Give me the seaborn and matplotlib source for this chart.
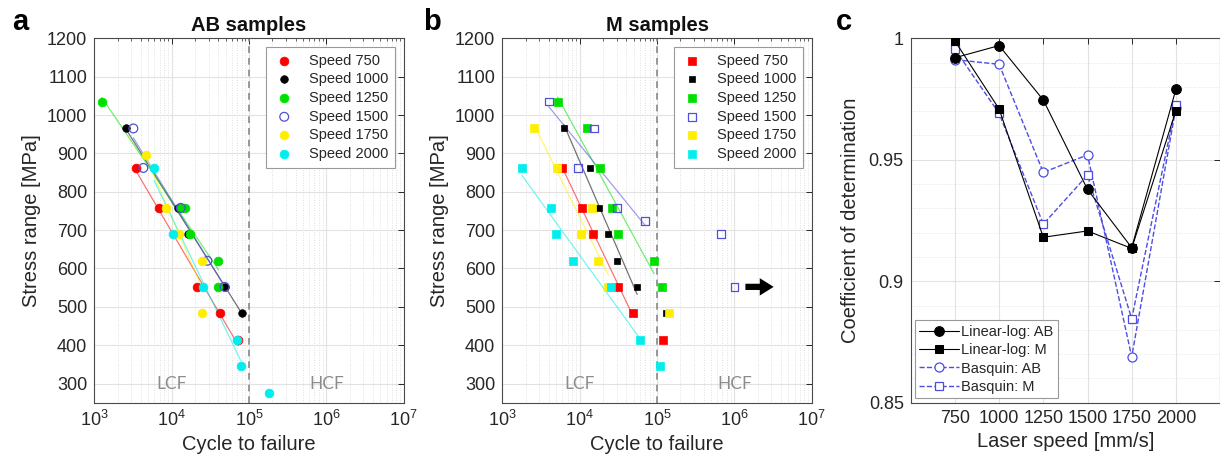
import numpy as np
import pandas as pd
import matplotlib
matplotlib.use("Agg")
import matplotlib.pyplot as plt
from matplotlib.ticker import LogLocator, NullFormatter, MultipleLocator, FixedLocator
import seaborn as sns

# ---------------- data ----------------
speeds = [750, 1000, 1250, 1500, 1750, 2000]
speed_labels = ["Speed 750", "Speed 1000", "Speed 1250", "Speed 1500", "Speed 1750", "Speed 2000"]

# Panel a: AB samples (cycles to failure, stress range MPa)
ab_750_N = [3460, 6800, 21500, 42300, 72800]
ab_750_S = [862, 758, 552, 483, 414]
ab_1000_N = [2540, 12200, 16400, 49100, 82200]
ab_1000_S = [965, 758, 690, 552, 483]
ab_1250_N = [1247, 13300, 14700, 17300, 40200, 40300]
ab_1250_S = [1035, 758, 758, 690, 620, 552]
ab_1500_N = [3200, 4300, 13100, 29000, 48500]
ab_1500_S = [965, 862, 758, 620, 552]
ab_1750_N = [4620, 8470, 12600, 24500, 24500]
ab_1750_S = [897, 758, 690, 620, 483]
ab_2000_N = [5920, 10500, 25200, 69200, 78000, 181000]
ab_2000_S = [862, 690, 552, 414, 345, 276]

# Panel b: M samples
m_750_N = [5970, 10800, 15100, 31100, 48600, 120000]
m_750_S = [862, 758, 690, 552, 483, 414]
m_1000_N = [6220, 13600, 17600, 23600, 30800, 55400, 130000]
m_1000_S = [965, 862, 758, 690, 620, 552, 483]
m_1250_N = [5200, 12500, 18200, 26500, 31100, 91800, 116000]
m_1250_S = [1035, 965, 862, 758, 690, 620, 552]
m_1500_N = [3980, 15200, 9440, 30500, 70100, 675000, 1000000]
m_1500_S = [1035, 965, 862, 758, 723, 690, 552]
m_1750_N = [2600, 5050, 14400, 10300, 17100, 23600, 142000]
m_1750_S = [965, 862, 758, 690, 620, 552, 483]
m_2000_N = [1800, 4300, 4900, 8300, 25200, 61100, 109000]
m_2000_S = [862, 758, 690, 620, 552, 413, 345]

# Panel c: coefficient of determination
r2_lin_ab = [0.992, 0.997, 0.9746, 0.9378, 0.9138, 0.979]
r2_lin_m = [0.9989, 0.9709, 0.9181, 0.9207, 0.9135, 0.9702]
r2_bas_ab = [0.9912, 0.9893, 0.9448, 0.952, 0.8689, 0.9715]
r2_bas_m = [0.9955, 0.9691, 0.9235, 0.9437, 0.8846, 0.9725]

runout_limit = 1e5

# ---------------- style ----------------
sns.set_theme(style="white")
plt.rcParams["font.family"] = ["Liberation Sans", "DejaVu Sans"]
plt.rcParams["mathtext.default"] = "regular"
plt.rcParams["axes.edgecolor"] = "#4a4a4a"
plt.rcParams["axes.linewidth"] = 0.8
plt.rcParams["text.color"] = "#262626"
plt.rcParams["axes.labelcolor"] = "#262626"
plt.rcParams["xtick.color"] = "#262626"
plt.rcParams["ytick.color"] = "#262626"

colors = ["#ff0000", "#000000", "#00e000", "#5050d8", "#ffee00", "#00eeee"]
fills = [True, True, True, False, True, True]

W, H = 1220, 466
fig = plt.figure(figsize=(W / 100, H / 100), dpi=100)
ax_w = 309.4 / W
ax_h = 364.4 / H
ax_b = (H - 402.7) / H
axA = fig.add_axes([94.3 / W, ax_b, ax_w, ax_h])
axB = fig.add_axes([502.3 / W, ax_b, ax_w, ax_h])
axC = fig.add_axes([910.7 / W, ax_b, ax_w, ax_h])

TICK_FS = 13
LABEL_FS = 14.5


def style_sn_axes(ax, title):
    ax.set_xscale("log")
    ax.set_xlim(1e3, 1e7)
    ax.set_ylim(250, 1200)
    ax.xaxis.set_major_locator(LogLocator(base=10, numticks=10))
    ax.xaxis.set_minor_locator(LogLocator(base=10, subs=np.arange(2, 10), numticks=20))
    ax.xaxis.set_minor_formatter(NullFormatter())
    ax.yaxis.set_major_locator(FixedLocator(np.arange(300, 1201, 100)))
    ax.grid(True, which="major", color="#e2e2e2", lw=0.8, ls="-")
    ax.grid(True, which="minor", axis="x", color="#d6d6d6", lw=0.6, ls=(0, (1, 2)))
    ax.set_axisbelow(True)
    ax.tick_params(which="both", direction="in", top=True, right=True, labelsize=TICK_FS, pad=5)
    ax.tick_params(which="major", length=4, width=0.7)
    ax.tick_params(which="minor", length=2, width=0.5)
    ax.set_xlabel("Cycle to failure", fontsize=LABEL_FS, labelpad=4)
    ax.set_ylabel("Stress range [MPa]", fontsize=LABEL_FS, labelpad=4)
    ax.set_title(title, fontsize=14.5, fontweight="bold", pad=5, color="#111111")
    ax.axvline(runout_limit, color="#888888", ls=(0, (4, 3)), lw=1.2, zorder=1)
    ax.text(1e4, 300, "LCF", ha="center", va="center", fontsize=12.5, color="#8c8c8c", family="Lato")
    ax.text(1e6, 300, "HCF", ha="center", va="center", fontsize=12.5, color="#8c8c8c", family="Lato")
    for s in ax.spines.values():
        s.set_color("#4a4a4a")


def draw_series(ax, N, S, color, filled, marker, size, label):
    df = pd.DataFrame({"N": N, "S": S})
    fit = df[df["N"] < runout_limit]
    sns.regplot(data=fit, x="N", y="S", logx=True, ci=None, scatter=False, truncate=True, ax=ax,
                line_kws=dict(color=color, lw=0.9, alpha=0.55, zorder=2))
    if filled:
        sns.scatterplot(data=df, x="N", y="S", ax=ax, marker=marker, s=size, color=color,
                        edgecolor=color, linewidth=0.5, label=label, zorder=3)
    else:
        sns.scatterplot(data=df, x="N", y="S", ax=ax, marker=marker, s=size, color=color,
                        facecolor="none", edgecolor=color, linewidth=0.9, label=label, zorder=3)


ab_sets = [(ab_750_N, ab_750_S), (ab_1000_N, ab_1000_S), (ab_1250_N, ab_1250_S),
           (ab_1500_N, ab_1500_S), (ab_1750_N, ab_1750_S), (ab_2000_N, ab_2000_S)]
m_sets = [(m_750_N, m_750_S), (m_1000_N, m_1000_S), (m_1250_N, m_1250_S),
          (m_1500_N, m_1500_S), (m_1750_N, m_1750_S), (m_2000_N, m_2000_S)]

for (N, S), c, f, lab in zip(ab_sets, colors, fills, speed_labels):
    draw_series(axA, N, S, c, f, "o", 40 if c != "#000000" else 30, lab)
for (N, S), c, f, lab in zip(m_sets, colors, fills, speed_labels):
    draw_series(axB, N, S, c, f, "s", 30 if c != "#000000" else 22, lab)

style_sn_axes(axA, "AB samples")
style_sn_axes(axB, "M samples")

for ax in (axA, axB):
    h, l = ax.get_legend_handles_labels()
    leg = ax.legend(h, l, loc="upper right", fontsize=10.5, frameon=True, fancybox=False,
                    framealpha=1, edgecolor="#999999", borderpad=0.45, labelspacing=0.32,
                    handlelength=1.6, handletextpad=0.9, borderaxespad=0.6)
    leg.get_frame().set_linewidth(0.8)

# runout arrow in panel b
axB.annotate("", xy=(3.5e6, 552), xytext=(1.28e6, 552),
             arrowprops=dict(arrowstyle="simple,head_width=1.25,head_length=1.0,tail_width=0.45",
                             mutation_scale=10, color="black", lw=0))

# ---------------- panel c ----------------
blue = "#4d4de6"
sns.lineplot(x=speeds, y=r2_lin_ab, ax=axC, color="black", lw=0.8, marker="o", markersize=7,
             markerfacecolor="black", markeredgecolor="black", label="Linear-log: AB", zorder=4)
sns.lineplot(x=speeds, y=r2_lin_m, ax=axC, color="black", lw=0.8, marker="s", markersize=6,
             markerfacecolor="black", markeredgecolor="black", label="Linear-log: M", zorder=4)
sns.lineplot(x=speeds, y=r2_bas_ab, ax=axC, color=blue, lw=1.0, ls="--", marker="o", markersize=6.5,
             markerfacecolor="white", markeredgecolor=blue, markeredgewidth=0.9, label="Basquin: AB", zorder=3)
sns.lineplot(x=speeds, y=r2_bas_m, ax=axC, color=blue, lw=1.0, ls="--", marker="s", markersize=5.5,
             markerfacecolor="white", markeredgecolor=blue, markeredgewidth=0.9, label="Basquin: M", zorder=3)

axC.set_xlim(500, 2250)
axC.set_ylim(0.85, 1.0)
axC.xaxis.set_major_locator(FixedLocator(speeds))
axC.set_xticklabels([str(s) for s in speeds])
axC.yaxis.set_major_locator(FixedLocator([0.85, 0.9, 0.95, 1.0]))
axC.set_yticklabels(["0.85", "0.9", "0.95", "1"])
axC.yaxis.set_minor_locator(MultipleLocator(0.01))
axC.grid(True, which="major", color="#e2e2e2", lw=0.8)
axC.grid(True, which="minor", axis="y", color="#dcdcdc", lw=0.6, ls=(0, (1, 2)))
axC.set_axisbelow(True)
axC.tick_params(which="both", direction="in", top=True, right=True, labelsize=TICK_FS, pad=5)
axC.tick_params(which="major", length=4, width=0.7)
axC.tick_params(which="minor", length=0)
axC.set_xlabel("Laser speed [mm/s]", fontsize=LABEL_FS, labelpad=4)
axC.set_ylabel("Coefficient of determination", fontsize=LABEL_FS, labelpad=6)
legC = axC.legend(loc="lower left", fontsize=10.5, frameon=True, fancybox=False, framealpha=1,
                  edgecolor="#999999", borderpad=0.3, labelspacing=0.3, handlelength=2.7,
                  handletextpad=0.15, borderaxespad=0.3)
legC.get_frame().set_linewidth(0.8)

# panel letters
for x, letter in [(11.7, "a"), (422.7, "b"), (836, "c")]:
    fig.text(x / W, 1 - 29.5 / H, letter, fontsize=21, fontweight="bold", color="black",
             ha="left", va="baseline")

fig.savefig("out.png", dpi=100)
